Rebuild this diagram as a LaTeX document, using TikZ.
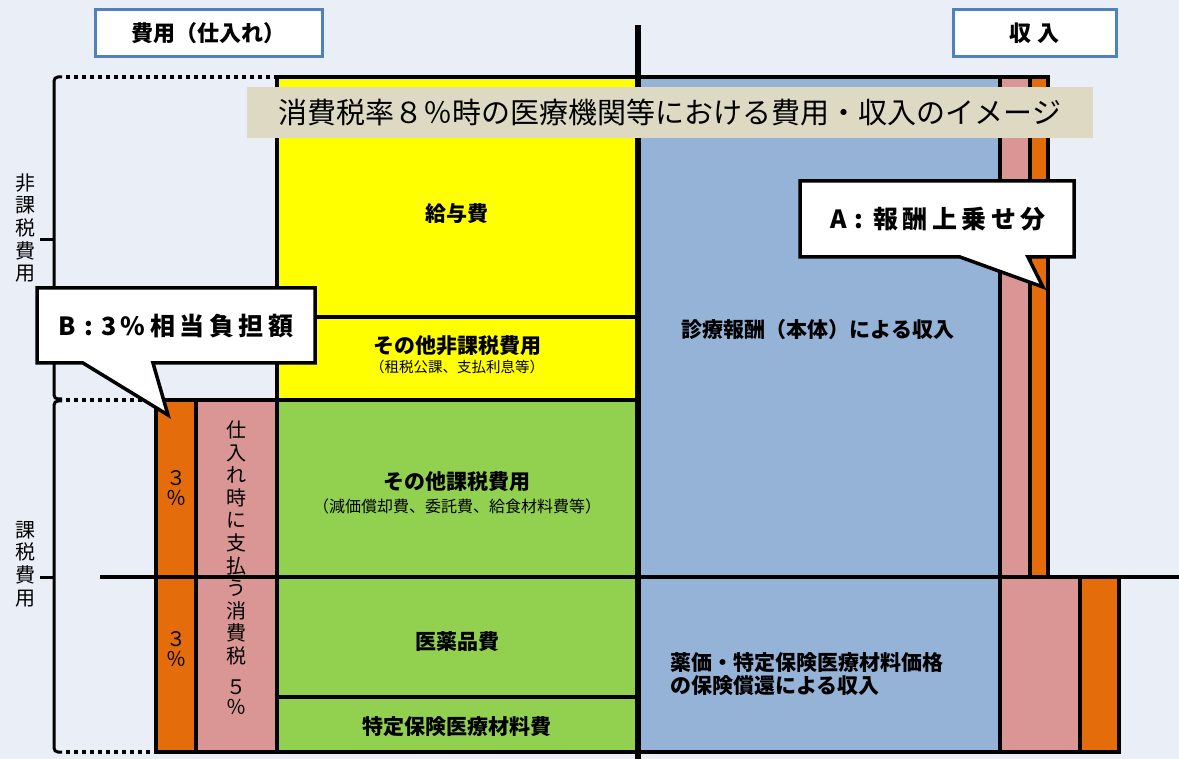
\documentclass[tikz,border=0pt]{standalone}
\usepackage{fontspec}
\setmainfont{Noto Sans CJK JP}
\definecolor{bgc}{RGB}{234,239,247}
\definecolor{yelc}{RGB}{255,255,0}
\definecolor{grnc}{RGB}{146,208,80}
\definecolor{bluc}{RGB}{149,179,215}
\definecolor{pnkc}{RGB}{217,150,148}
\definecolor{orgc}{RGB}{228,108,10}
\definecolor{banc}{RGB}{221,217,195}
\definecolor{hdrc}{RGB}{79,129,189}
\newcommand\jsz[2]{\fontsize{#1}{#2}\selectfont}
\newcommand\cs{\hspace{4.5pt}}
\begin{document}
\begin{tikzpicture}[x=1pt,y=-1pt,
  cell/.style={draw=black, line width=3.5pt, inner sep=0pt, outer sep=0pt, anchor=north west},
  hdr/.style={draw=hdrc, line width=3pt, fill=white, inner sep=0pt, font=\bfseries\jsz{22}{24}},
  lbl/.style={inner sep=0pt, font=\bfseries\jsz{21}{24}, align=center},
  sub/.style={inner sep=0pt, font=\jsz{14.5}{16}, align=center},
  vtx/.style={inner sep=0pt, font=\jsz{20}{22.6}, align=center},
  pct/.style={inner sep=0pt, font=\jsz{20}{20}, align=center},
  brk/.style={line width=3pt, rounded corners=4pt},
  dotl/.style={line width=3.5pt, dash pattern=on 4pt off 4pt},
  callout/.style={draw=black, line width=3.5pt, fill=white, line join=miter},
  ctxt/.style={inner sep=0pt, font=\bfseries\jsz{25}{27}}
]
\fill[bgc] (0,0) rectangle (1179,759);
\useasboundingbox (0,0) rectangle (1179,759);

% header boxes
\node[hdr, minimum width=227pt, minimum height=47pt] (hcost) at (208.5,33.5) {費用（仕入れ）};
\node[hdr, minimum width=163pt, minimum height=47pt] (hinc) at (1034.5,33.5) {収\hspace{6pt}入};

% cost side boxes
\node[cell, fill=yelc, minimum width=361pt, minimum height=240pt] (kyuyo) at (277,77) {};
\node[cell, fill=yelc, minimum width=361pt, minimum height=83pt] (hika) at (277,317) {};
\node[cell, fill=grnc, minimum width=361pt, minimum height=177pt] (kaze) at (277,400) {};
\node[cell, fill=grnc, minimum width=361pt, minimum height=120pt] (iyaku) at (277,577) {};
\node[cell, fill=grnc, minimum width=361pt, minimum height=55pt] (tokutei) at (277,697) {};
\node[cell, fill=orgc, minimum width=40pt, minimum height=352pt] (lorg) at (156,400) {};
\node[cell, fill=pnkc, minimum width=81pt, minimum height=352pt] (lpnk) at (196,400) {};

% income side boxes
\node[cell, fill=bluc, minimum width=362pt, minimum height=500pt] (shinryo) at (638,77) {};
\node[cell, fill=bluc, minimum width=362pt, minimum height=175pt] (yakka) at (638,577) {};
\node[cell, fill=pnkc, minimum width=30pt, minimum height=500pt] (rpnk1) at (1000,77) {};
\node[cell, fill=orgc, minimum width=18pt, minimum height=500pt] (rorg1) at (1030,77) {};
\node[cell, fill=pnkc, minimum width=80pt, minimum height=175pt] (rpnk2) at (1000,577) {};
\node[cell, fill=orgc, minimum width=39pt, minimum height=175pt] (rorg2) at (1080,577) {};

% dividing lines
\coordinate (hl) at (100,577);
\coordinate (hr) at (1179,577);
\draw[line width=3.5pt] (hl) -- (hr);
\coordinate (ctop) at (638,25);
\coordinate (cbot) at (638,759);
\draw[line width=5.5pt] (ctop) -- (cbot);

% brackets
\draw[brk] (62,77) -- (54,77) -- (54,399) -- (62,399);
\draw[brk] (62,401) -- (54,401) -- (54,752) -- (62,752);
\draw[line width=3pt] (54,240) -- (40,240);
\draw[line width=3pt] (54,577) -- (40,577);
\draw[dotl] (66,77) -- (277,77);
\draw[dotl] (66,400) -- (156,400);
\draw[dotl] (66,752) -- (156,752);

\node[vtx] (lab1) at (26,228) {非\\課\\税\\費\\用};
\node[vtx] (lab2) at (26,564) {課\\税\\費\\用};

% banner
\node[fill=banc, minimum width=846pt, minimum height=51pt, inner sep=0pt, font=\jsz{29}{31}] (banner) at (670,112.5) {消費税率８％時の医療機関等における費用・収入のイメージ};

% labels
\node[lbl] (t1) at (457,214) {給与費};
\node[lbl] (t2) at (457,346) {その他非課税費用};
\node[sub] (t2s) at (457,367) {（租税公課、支払利息等）};
\node[lbl] (t3) at (457,482) {その他課税費用};
\node[sub, font=\jsz{16}{18}] (t3s) at (457,506) {（減価償却費、委託費、給食材料費等）};
\node[lbl] (t4) at (457,642) {医薬品費};
\node[lbl] (t5) at (457,727) {特定保険医療材料費};
\node[lbl] (t6) at (818,330) {診療報酬（本体）による収入};
\node[lbl, anchor=west, align=left, font=\bfseries\jsz{21}{23}] (t7) at (670,674) {薬価・特定保険医療材料価格\\の保険償還による収入};

\node[pct] (p1) at (176,488) {３\\％};
\node[pct] (p2) at (176,649) {３\\％};
\node[vtx] (v1) at (236,543) {仕\\入\\れ\\時\\に\\支\\払\\う\\消\\費\\税};
\node[pct] (v2) at (236,697) {５\\％};

% callouts
\draw[callout] (800,181) -- (1074,181) -- (1074,257) -- (1028,257) -- (1043,287) -- (960,257) -- (800,257) -- cycle;
\node[ctxt] (ca) at (938,219) {A\hspace{8pt}:\hspace{10pt}報\cs 酬\cs 上\cs 乗\cs せ\cs 分};
\draw[callout] (37,288) -- (315,288) -- (315,363) -- (153,363) -- (168,415) -- (83,363) -- (37,363) -- cycle;
\node[ctxt] (cb) at (176,326) {B\hspace{8pt}:\hspace{8pt}3\cs\%\cs 相\cs 当\cs 負\cs 担\cs 額};
\end{tikzpicture}
\end{document}
